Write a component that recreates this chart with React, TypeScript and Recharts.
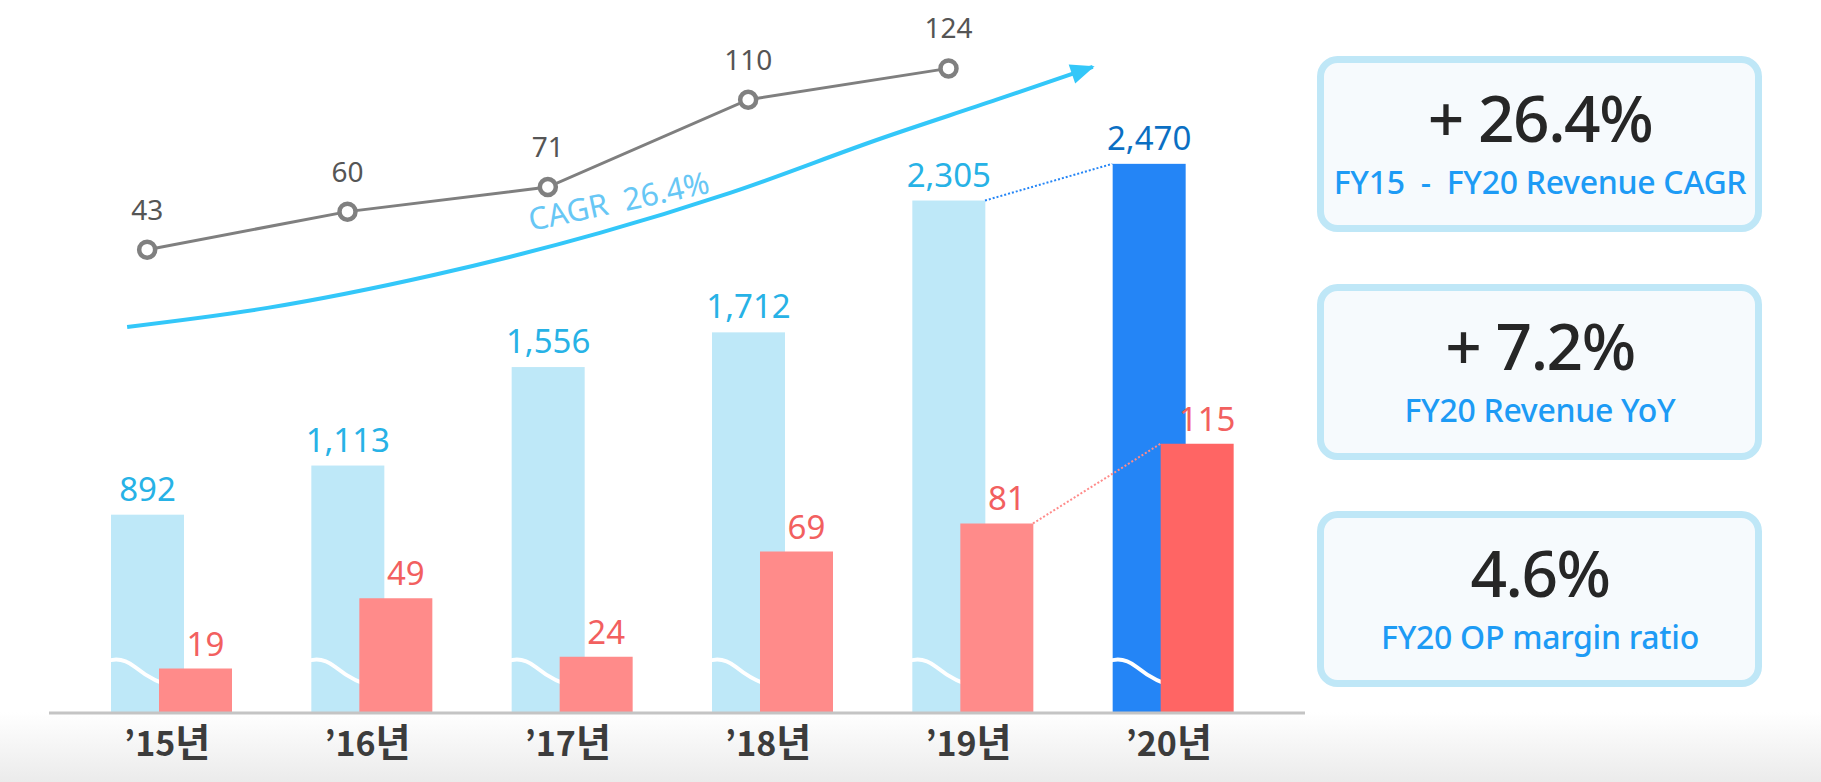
import React from 'react';
import { ComposedChart, Bar, Line, XAxis, YAxis, Cell, LabelList } from 'recharts';

const categories = ['’15년', '’16년', '’17년', '’18년', '’19년', '’20년'];
const revenue = [892, 1113, 1556, 1712, 2305, 2470];
const opProfit = [19, 49, 24, 69, 81, 115];
const lineValues: (number | null)[] = [43, 60, 71, 110, 124, null];

// CAGR trend arrow (x in category index units, y in the line axis units)
const arrowX = [-0.1, 0.6, 1.43, 2.26, 2.91, 3.67, 4.24, 4.72];
const arrowY = [8.5, 17, 31.7, 50.5, 68.4, 92.9, 110, 124.7];

const boxTitles = ['+ 26.4%', '+ 7.2%', '4.6%'];
const boxSubtitles = ['FY15  -  FY20 Revenue CAGR', 'FY20 Revenue YoY', 'FY20 OP margin ratio'];

// layout constants
const CHART_W = 1320;
const CHART_H = 782;
const M_LEFT = 49;
const M_RIGHT = 15;
const PAD_L = 22;
const PAD_R = 32;
const BAR = 73;
const GAP = -25;
const BAND = (CHART_W - M_LEFT - M_RIGHT - PAD_L - PAD_R) / categories.length;
const SHIFT = (BAR + GAP) / 2 / BAND;
const HALF = BAR / 2 / BAND;

const data = categories.map((c, i) => ({ cat: c, x: i, rev: revenue[i], op: opProfit[i], lv: lineValues[i] }));
const arrowData = arrowX.map((x, i) => ({ x, a: arrowY[i] }));
const last = categories.length - 1;
const revConn = [
  { x: last - 1 - SHIFT + HALF, c: revenue[last - 1] },
  { x: last - SHIFT - HALF, c: revenue[last] },
];
const opConn = [
  { x: last - 1 + SHIFT + HALF, c: opProfit[last - 1] },
  { x: last + SHIFT - HALF, c: opProfit[last] },
];

const FONT = "'Noto Sans', 'Noto Sans CJK KR', sans-serif";

const RevShape = (props: any) => {
  const { x, y, width, height, index } = props;
  const by = y + height;
  const fill = index === last ? '#2485f6' : '#bee8f8';
  return (
    <g>
      <rect x={x} y={y} width={width} height={height} fill={fill} />
      <path
        d={`M${x - 16},${by - 44} Q${x + 4},${by - 62} ${x + 24},${by - 46} T${x + 64},${by - 26}`}
        stroke="#ffffff"
        strokeWidth={4}
        fill="none"
      />
    </g>
  );
};

const vb = (p: any) => p.viewBox ?? p;

const RevLabel = (p: any) => {
  const { x, y, width } = vb(p);
  if (p.value == null) return null;
  return (
    <text x={x + width / 2} y={y - 14} textAnchor="middle" fontSize={33} fontFamily={FONT}
      fill={p.index === last ? '#0b6fc3' : '#27b2e6'}>
      {Number(p.value).toLocaleString('en-US')}
    </text>
  );
};

const OpLabel = (p: any) => {
  const { x, y, width } = vb(p);
  if (p.value == null) return null;
  return (
    <text x={x + width / 2 + 10} y={y - 13} textAnchor="middle" fontSize={33} fontFamily={FONT} fill="#f2605f">
      {p.value}
    </text>
  );
};

const LineLabel = (p: any) => {
  const { x, y } = vb(p);
  if (p.value == null) return null;
  return (
    <text x={x} y={y - 30} textAnchor="middle" fontSize={28} fontFamily={FONT} fill="#555555">
      {p.value}
    </text>
  );
};

const ArrowHead = (p: any) => {
  const { cx, cy, index } = p;
  if (index !== arrowX.length - 1) return <g key={index} />;
  return (
    <polygon key={index}
      points={`${cx + 2},${cy} ${cx - 22},${cy - 10} ${cx - 22},${cy + 10}`}
      fill="#33c7f9"
      transform={`rotate(-19 ${cx} ${cy})`}
    />
  );
};

const XTick = (p: any) => {
  const { x, y, payload } = p;
  const s: string = payload.value;
  return (
    <text x={x - 4} y={y + 43} textAnchor="middle" fill="#3c3c3c" fontWeight={700}
      fontFamily="'Noto Sans CJK KR', 'Noto Sans', sans-serif">
      <tspan fontSize={34}>{s.slice(0, -1)}</tspan>
      <tspan fontSize={38}>{s.slice(-1)}</tspan>
    </text>
  );
};

const boxTops = [56, 284, 511];

export default function App() {
  return (
    <div
      style={{
        position: 'absolute', left: 0, top: 0, width: 1821, height: 782, overflow: 'hidden',
        background: 'linear-gradient(to bottom, #ffffff 0px, #ffffff 712px, #ebebeb 782px)',
      }}
    >
      <div style={{ position: 'absolute', left: 0, top: 0 }}>
        <ComposedChart
          width={CHART_W}
          height={CHART_H}
          data={data}
          margin={{ top: 46, right: M_RIGHT, bottom: 0, left: M_LEFT }}
          barGap={GAP}
          barCategoryGap={0}
        >
          <XAxis xAxisId="cat" dataKey="cat" height={69} padding={{ left: PAD_L, right: PAD_R }}
            axisLine={{ stroke: '#c4c4c4', strokeWidth: 3 }} tickLine={false} tickSize={0} tickMargin={0}
            tick={<XTick />} interval={0} />
          <XAxis xAxisId="line" dataKey="x" type="number" hide allowDataOverflow
            domain={[-0.5 + SHIFT, categories.length - 0.5 + SHIFT]} padding={{ left: PAD_L, right: PAD_R }} />
          <XAxis xAxisId="num" dataKey="x" type="number" hide allowDataOverflow
            domain={[-0.5, categories.length - 0.5]} padding={{ left: PAD_L, right: PAD_R }} />
          <YAxis yAxisId="rev" hide domain={[0, 3000]} allowDataOverflow />
          <YAxis yAxisId="op" hide domain={[0, 285]} allowDataOverflow />
          <YAxis yAxisId="line" hide domain={[-164, 134]} allowDataOverflow />

          <Bar xAxisId="cat" yAxisId="rev" dataKey="rev" barSize={BAR} shape={RevShape} isAnimationActive={false}>
            <LabelList dataKey="rev" content={RevLabel} />
          </Bar>
          <Bar xAxisId="cat" yAxisId="op" dataKey="op" barSize={BAR} isAnimationActive={false}>
            {data.map((d, i) => (
              <Cell key={d.cat} fill={i === last ? '#ff6564' : '#ff8b8a'} />
            ))}
            <LabelList dataKey="op" content={OpLabel} />
          </Bar>

          <Line xAxisId="num" yAxisId="rev" data={revConn} dataKey="c" stroke="#2485f6" strokeWidth={2}
            strokeDasharray="2 2" dot={false} isAnimationActive={false} />
          <Line xAxisId="num" yAxisId="op" data={opConn} dataKey="c" stroke="#ff8b8a" strokeWidth={2}
            strokeDasharray="2 2" dot={false} isAnimationActive={false} />

          <Line xAxisId="line" yAxisId="line" data={arrowData} dataKey="a" type="monotone" stroke="#33c7f9"
            strokeWidth={4} dot={ArrowHead} activeDot={false} isAnimationActive={false} />

          <Line xAxisId="line" yAxisId="line" dataKey="lv" stroke="#7f7f7f" strokeWidth={3}
            dot={{ r: 8, stroke: '#808080', strokeWidth: 4.5, fill: '#ffffff' }} activeDot={false}
            isAnimationActive={false}>
            <LabelList dataKey="lv" content={LineLabel} />
          </Line>
        </ComposedChart>
      </div>

      <svg width={1821} height={782} style={{ position: 'absolute', left: 0, top: 0, pointerEvents: 'none' }}>
        <text x={531} y={231} fontSize={31} fontFamily={FONT} fill="#67c7f5" xmlSpace="preserve"
          style={{ whiteSpace: 'pre' }} transform="rotate(-12 531 231)">
          CAGR  26.4%
        </text>
        {boxTops.map((t, i) => (
          <g key={i}>
            <rect x={1320.5} y={t + 3.5} width={438} height={169} rx={17} ry={17}
              fill="#f6fafd" stroke="#bfe7f7" strokeWidth={7} />
            <text x={1540} y={t + 86} textAnchor="middle" fontSize={64} fontWeight={500} fontFamily={FONT}
              fill="#262626" letterSpacing={-1.5} style={{ whiteSpace: 'pre' }}>
              {boxTitles[i]}
            </text>
            <text x={1540} y={t + 138} textAnchor="middle" fontSize={32} fontWeight={500} fontFamily={FONT}
              fill="#1d9bf5" letterSpacing={-0.3} style={{ whiteSpace: 'pre' }}>
              {boxSubtitles[i]}
            </text>
          </g>
        ))}
      </svg>
    </div>
  );
}
